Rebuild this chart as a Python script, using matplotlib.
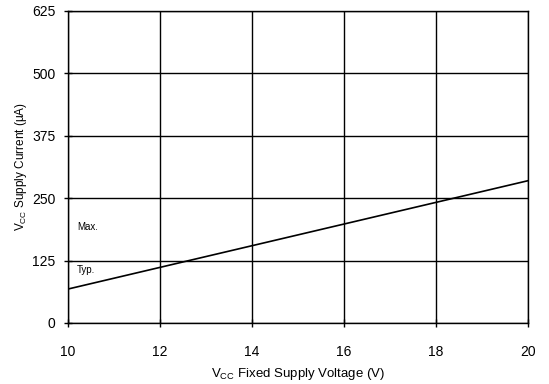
import matplotlib
matplotlib.use("Agg")
import matplotlib.pyplot as plt

plt.rcParams['font.family'] = ['Liberation Sans', 'DejaVu Sans']

# Supply current vs. supply voltage (typical)
vcc = [10, 20]
icc_typ = [68, 285]

x_ticks = [10, 12, 14, 16, 18, 20]
y_ticks = [0, 125, 250, 375, 500, 625]

fig = plt.figure(figsize=(5.49, 3.84), dpi=100)
ax = fig.add_axes([0.1239, 0.1589, 0.8378, 0.8125])

ax.plot(vcc, icc_typ, color='black', linewidth=1.2)

ax.set_xlim(10, 20)
ax.set_ylim(0, 625)
ax.set_xticks(x_ticks)
ax.set_yticks(y_ticks)
ax.grid(True, color='black', linewidth=1.0)
ax.tick_params(direction='inout', length=6, width=1, labelsize=10, colors='black')
ax.tick_params(axis='x', pad=13)
ax.tick_params(axis='y', pad=6)
for s in ax.spines.values():
    s.set_linewidth(1.0)

ax.text(10.2, 186, "Max.", fontsize=7)
ax.text(10.2, 100, "Typ.", fontsize=7)

ax.set_xlabel(r"V$_{\mathregular{CC}}$ Fixed Supply Voltage (V)", fontsize=9.5, labelpad=5)
ax.set_ylabel(r"V$_{\mathregular{CC}}$ Supply Current ($\mathregular{\mu}$A)", fontsize=8.5, labelpad=2)

fig.savefig("out.png", dpi=100)
